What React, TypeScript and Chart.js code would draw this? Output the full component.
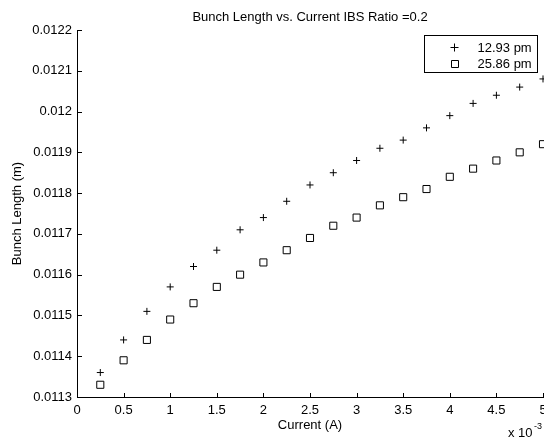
import React, { useEffect, useRef } from 'react';
import { Chart, registerables } from 'chart.js';

Chart.register(...registerables);

// Current in units of 1e-3 A
const currentMA = [0.25, 0.5, 0.75, 1.0, 1.25, 1.5, 1.75, 2.0, 2.25, 2.5, 2.75, 3.0, 3.25, 3.5, 3.75, 4.0, 4.25, 4.5, 4.75, 5.0];
// Bunch length (m), 12.93 pm emittance
const bunch1293 = [0.01136, 0.01144, 0.01151, 0.01157, 0.01162, 0.01166, 0.01171, 0.01174, 0.01178, 0.01182, 0.01185, 0.01188, 0.01191, 0.01193, 0.01196, 0.01199, 0.01202, 0.01204, 0.01206, 0.01208];
// Bunch length (m), 25.86 pm emittance
const bunch2586 = [0.01133, 0.01139, 0.01144, 0.01149, 0.01153, 0.01157, 0.01160, 0.01163, 0.01166, 0.01169, 0.01172, 0.01174, 0.01177, 0.01179, 0.01181, 0.01184, 0.01186, 0.01188, 0.01190, 0.01192];
const seriesLabels = ['12.93 pm', '25.86 pm'];
const xTicks = [0, 0.5, 1, 1.5, 2, 2.5, 3, 3.5, 4, 4.5, 5];
const yTicks = [0.0113, 0.0114, 0.0115, 0.0116, 0.0117, 0.0118, 0.0119, 0.012, 0.0121, 0.0122];
const titleText = 'Bunch Length vs. Current IBS Ratio =0.2';
const xTitle = 'Current (A)';
const yTitle = 'Bunch Length (m)';

const FONT = '"Liberation Sans", Arial, Helvetica, sans-serif';
const FS = 13;
// canvas is a little wider than the 544px view; the plot runs to its right edge
const CANVAS_W = 549;
const CANVAS_H = 443;

const matlabPlugin = {
  id: 'matlabDecor',
  afterDraw(chart: any) {
    const { ctx, chartArea: a, scales } = chart;
    const x = scales.x;
    const y = scales.y;
    ctx.save();
    ctx.strokeStyle = '#000';
    ctx.lineWidth = 1;
    // axis lines
    ctx.beginPath();
    ctx.moveTo(a.left + 0.5, a.top);
    ctx.lineTo(a.left + 0.5, a.bottom + 0.5);
    ctx.lineTo(a.right + 2, a.bottom + 0.5);
    ctx.stroke();
    // inward ticks
    ctx.beginPath();
    x.ticks.forEach((t: any) => {
      const px = Math.round(x.getPixelForValue(t.value)) + 0.5;
      ctx.moveTo(px, a.bottom);
      ctx.lineTo(px, a.bottom - 4);
    });
    y.ticks.forEach((t: any) => {
      const py = Math.round(y.getPixelForValue(t.value)) + 0.5;
      ctx.moveTo(a.left, py);
      ctx.lineTo(a.left + 5, py);
    });
    ctx.stroke();

    ctx.fillStyle = '#000';
    ctx.font = `${FS}px ${FONT}`;
    // x tick labels
    ctx.textAlign = 'center';
    ctx.textBaseline = 'alphabetic';
    x.ticks.forEach((t: any) => {
      ctx.fillText(String(t.value), x.getPixelForValue(t.value), a.bottom + 17);
    });
    // title
    ctx.fillText(titleText, (a.left + a.right) / 2, 21);
    // x title
    ctx.fillText(xTitle, (a.left + a.right) / 2, a.bottom + 32);
    // exponent label
    ctx.textAlign = 'left';
    ctx.fillText('x 10', a.right - 35, a.bottom + 40);
    ctx.font = `${FS - 4}px ${FONT}`;
    ctx.fillText('-3', a.right - 9, a.bottom + 32);
    // y title
    ctx.font = `${FS}px ${FONT}`;
    ctx.save();
    ctx.translate(17, (a.top + a.bottom) / 2);
    ctx.rotate(-Math.PI / 2);
    ctx.textAlign = 'center';
    ctx.textBaseline = 'middle';
    ctx.fillText(yTitle, 0, 0);
    ctx.restore();

    // legend
    const bw = 113;
    const bh = 37;
    const bx = Math.round(a.right - 6 - bw) + 0.5;
    const by = Math.round(a.top + 5) + 0.5;
    ctx.fillStyle = '#fff';
    ctx.fillRect(bx, by, bw, bh);
    ctx.strokeStyle = '#000';
    ctx.strokeRect(bx, by, bw, bh);
    ctx.fillStyle = '#000';
    ctx.font = `${FS}px ${FONT}`;
    ctx.textAlign = 'left';
    ctx.textBaseline = 'middle';
    chart.data.datasets.forEach((ds: any, i: number) => {
      const cy = Math.round(by + 11 + i * 16.5);
      const mx = Math.round(bx + 29);
      ctx.beginPath();
      if (ds.pointStyle === 'cross') {
        ctx.moveTo(mx - 3.5, cy + 0.5);
        ctx.lineTo(mx + 4.5, cy + 0.5);
        ctx.moveTo(mx + 0.5, cy - 3.5);
        ctx.lineTo(mx + 0.5, cy + 4.5);
      } else {
        ctx.rect(mx - 3 + 0.5, cy - 3 + 0.5, 7, 7);
      }
      ctx.stroke();
      ctx.fillText(ds.label, bx + 53, cy + 1);
    });
    ctx.restore();
  },
};

export default function App() {
  const canvasRef = useRef<HTMLCanvasElement | null>(null);

  useEffect(() => {
    if (!canvasRef.current) return;
    const chart = new Chart(canvasRef.current, {
      type: 'scatter',
      data: {
        datasets: [
          {
            label: seriesLabels[0],
            data: currentMA.map((c, i) => ({ x: c, y: bunch1293[i] })),
            pointStyle: 'cross',
            pointRadius: 3.5,
            pointBorderWidth: 1,
            borderColor: '#000',
            backgroundColor: 'rgba(0,0,0,0)',
            showLine: false,
            clip: false as any,
          },
          {
            label: seriesLabels[1],
            data: currentMA.map((c, i) => ({ x: c, y: bunch2586[i] })),
            pointStyle: 'rect',
            pointRadius: 5,
            pointBorderWidth: 1,
            borderColor: '#000',
            backgroundColor: 'rgba(0,0,0,0)',
            showLine: false,
            clip: false as any,
          },
        ],
      },
      options: {
        responsive: false,
        animation: false,
        layout: { padding: { top: 30, right: 0, left: 0, bottom: 0 } },
        plugins: {
          legend: { display: false },
          title: { display: false },
          tooltip: { enabled: false },
        },
        scales: {
          x: {
            type: 'linear',
            min: 0,
            max: 5,
            grid: { display: false, drawTicks: false },
            border: { display: false },
            afterBuildTicks: (s: any) => {
              s.ticks = xTicks.map((v) => ({ value: v }));
            },
            afterFit: (s: any) => {
              s.height = 46;
            },
            ticks: {
              display: false,
            },
          },
          y: {
            type: 'linear',
            min: 0.0113,
            max: 0.0122,
            grid: { display: false, drawTicks: false },
            border: { display: false },
            afterBuildTicks: (s: any) => {
              s.ticks = yTicks.map((v) => ({ value: v }));
            },
            afterFit: (s: any) => {
              s.width = 77;
            },
            ticks: {
              padding: 5,
              color: '#000',
              font: { family: FONT, size: FS },
              autoSkip: false,
              callback: (v: any) => String(parseFloat(Number(v).toFixed(4))),
            },
          },
        },
      },
      plugins: [matlabPlugin],
    });
    return () => chart.destroy();
  }, []);

  return (
    <div style={{ position: 'fixed', left: 0, top: 0, width: 544, height: 443, overflow: 'hidden', background: '#fff' }}>
      <canvas ref={canvasRef} width={CANVAS_W} height={CANVAS_H} style={{ display: 'block' }} />
    </div>
  );
}
